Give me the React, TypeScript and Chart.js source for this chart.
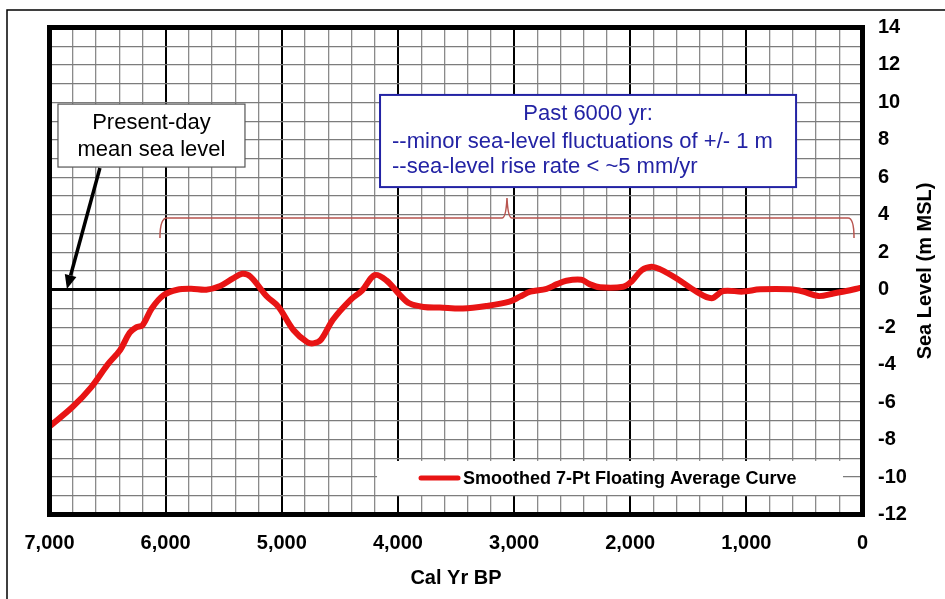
import React, { useEffect, useRef } from 'react';
import { Chart, registerables } from 'chart.js';

Chart.register(...registerables);

// ---- data ----
const years = [
  7000, 6800, 6640, 6500, 6390, 6310, 6250, 6200, 6120, 6020,
  5900, 5780, 5650, 5530, 5420, 5340, 5270, 5130, 5030, 4900,
  4780, 4720, 4660, 4560, 4410, 4310, 4200, 4100, 3980, 3900,
  3780, 3640, 3440, 3240, 3040, 2950, 2860, 2720, 2630, 2550,
  2420, 2350, 2260, 2060, 1990, 1900, 1815, 1745, 1600, 1430,
  1300, 1200, 1030, 880, 620, 510, 380, 250, 140, 20,
];
const seaLevel = [
  -7.3, -6.25, -5.2, -4.0, -3.2, -2.3, -2.0, -1.9, -1.0, -0.3,
  0.0, 0.05, 0.0, 0.2, 0.6, 0.85, 0.7, -0.35, -0.9, -2.15,
  -2.8, -2.85, -2.65, -1.6, -0.55, -0.05, 0.78, 0.5, -0.3, -0.73,
  -0.92, -0.95, -1.0, -0.87, -0.64, -0.37, -0.1, 0.05, 0.3, 0.48,
  0.53, 0.3, 0.13, 0.16, 0.43, 1.05, 1.23, 1.1, 0.6, -0.1,
  -0.45, -0.07, -0.1, 0.02, 0.02, -0.1, -0.34, -0.2, -0.07, 0.1,
];
const xRange = [0, 7000];
const yRange = [-12, 14];
const xStep = 200;
const xLabelEvery = 1000;
const yStep = 1;
const yLabelEvery = 2;

const seriesLabel = 'Smoothed 7-Pt Floating Average Curve';
const xTitle = 'Cal Yr BP';
const yTitle = 'Sea Level (m MSL)';
const noteMsl = ['Present-day', 'mean sea level'];
const noteTrend = ['Past 6000 yr:', '--minor sea-level fluctuations of +/- 1 m', '--sea-level rise rate < ~5 mm/yr'];

const FONT = 'Arial, "Liberation Sans", Helvetica, sans-serif';
const RED = '#e81414';
const BLUE = '#2323a4';

function fmtThousands(v: number): string {
  return String(Math.round(v)).replace(/\B(?=(\d{3})+(?!\d))/g, ',');
}

const overlayPlugin = {
  id: 'overlay',
  beforeDraw(chart: any) {
    const ctx: CanvasRenderingContext2D = chart.ctx;
    ctx.save();
    ctx.fillStyle = '#fff';
    ctx.fillRect(0, 0, chart.width, chart.height);
    ctx.strokeStyle = '#000';
    ctx.lineWidth = 1.5;
    ctx.strokeRect(7, 10, chart.width + 20, chart.height + 20);
    ctx.restore();
  },
  beforeDatasetsDraw(chart: any) {
    const ctx: CanvasRenderingContext2D = chart.ctx;
    const xs = chart.scales.x;
    const ys = chart.scales.y;
    const px = (v: number) => xs.getPixelForValue(v);
    const py = (v: number) => ys.getPixelForValue(v);
    ctx.save();

    // legend box
    const lx0 = px(4180), lx1 = px(168), ly0 = py(-9.14), ly1 = py(-10.96);
    ctx.fillStyle = '#fff';
    ctx.fillRect(lx0, ly0, lx1 - lx0, ly1 - ly0);
    const lyMid = (ly0 + ly1) / 2;
    ctx.strokeStyle = RED;
    ctx.lineWidth = 5;
    ctx.lineCap = 'round';
    ctx.beginPath();
    ctx.moveTo(lx0 + 44, lyMid);
    ctx.lineTo(lx0 + 81, lyMid);
    ctx.stroke();
    ctx.fillStyle = '#000';
    ctx.font = `bold 18px ${FONT}`;
    ctx.textBaseline = 'middle';
    ctx.textAlign = 'left';
    ctx.fillText(seriesLabel, lx0 + 86, lyMid + 1);

    // brace over the past 6000 yr
    const bl = px(6049), br = px(73), bTop = py(3.83), bEnd = py(2.76), bPeakX = px(3061), bPeakY = py(4.9);
    ctx.strokeStyle = '#b8544f';
    ctx.lineWidth = 1.5;
    ctx.lineCap = 'butt';
    ctx.beginPath();
    ctx.moveTo(bl, bEnd);
    ctx.quadraticCurveTo(bl, bTop, bl + 7, bTop);
    ctx.lineTo(bPeakX - 5, bTop);
    ctx.quadraticCurveTo(bPeakX - 1, bTop, bPeakX, bPeakY);
    ctx.quadraticCurveTo(bPeakX + 1, bTop, bPeakX + 5, bTop);
    ctx.lineTo(br - 6, bTop);
    ctx.quadraticCurveTo(br, bTop, br, bEnd);
    ctx.stroke();

    // present-day MSL note
    const ax0 = px(6927), ax1 = px(5317), ay0 = py(9.91), ay1 = py(6.55);
    ctx.fillStyle = '#fff';
    ctx.fillRect(ax0, ay0, ax1 - ax0, ay1 - ay0);
    ctx.strokeStyle = '#555';
    ctx.lineWidth = 1.2;
    ctx.strokeRect(ax0, ay0, ax1 - ax0, ay1 - ay0);
    ctx.fillStyle = '#000';
    ctx.font = `22px ${FONT}`;
    ctx.textBaseline = 'middle';
    ctx.textAlign = 'center';
    const acx = (ax0 + ax1) / 2;
    ctx.fillText(noteMsl[0], acx, ay0 + 19);
    ctx.fillText(noteMsl[1], acx, ay0 + 46);

    // arrow to MSL line
    const sx = px(6566), sy = py(6.5), tx = px(6850), ty = py(0.04);
    const ang = Math.atan2(ty - sy, tx - sx);
    const hl = 14, hw = 6;
    const bx = tx - hl * Math.cos(ang), by = ty - hl * Math.sin(ang);
    ctx.strokeStyle = '#000';
    ctx.fillStyle = '#000';
    ctx.lineWidth = 3.5;
    ctx.beginPath();
    ctx.moveTo(sx, sy);
    ctx.lineTo(bx, by);
    ctx.stroke();
    ctx.beginPath();
    ctx.moveTo(tx, ty);
    ctx.lineTo(bx + hw * Math.sin(ang), by - hw * Math.cos(ang));
    ctx.lineTo(bx - hw * Math.sin(ang), by + hw * Math.cos(ang));
    ctx.closePath();
    ctx.fill();

    // trend note
    const tx0 = px(4154), tx1 = px(572), ty0 = py(10.4), ty1 = py(5.48);
    ctx.fillStyle = '#fff';
    ctx.fillRect(tx0, ty0, tx1 - tx0, ty1 - ty0);
    ctx.strokeStyle = BLUE;
    ctx.lineWidth = 2;
    ctx.strokeRect(tx0, ty0, tx1 - tx0, ty1 - ty0);
    ctx.fillStyle = BLUE;
    ctx.font = `22px ${FONT}`;
    ctx.textBaseline = 'middle';
    ctx.textAlign = 'center';
    ctx.fillText(noteTrend[0], (tx0 + tx1) / 2, ty0 + 19);
    ctx.textAlign = 'left';
    ctx.fillText(noteTrend[1], tx0 + 12, ty0 + 47);
    ctx.fillText(noteTrend[2], tx0 + 12, ty0 + 72);

    ctx.restore();
  },
  afterDatasetsDraw(chart: any) {
    const ctx: CanvasRenderingContext2D = chart.ctx;
    const a = chart.chartArea;
    ctx.save();
    ctx.strokeStyle = '#000';
    ctx.lineWidth = 5;
    ctx.strokeRect(a.left, a.top, a.right - a.left, a.bottom - a.top);

    ctx.fillStyle = '#000';
    ctx.font = `bold 20px ${FONT}`;
    ctx.textAlign = 'center';
    ctx.textBaseline = 'middle';
    ctx.fillText(xTitle, (a.left + a.right) / 2, 578);

    ctx.font = `bold 20px ${FONT}`;
    ctx.translate(925, (a.top + a.bottom) / 2);
    ctx.rotate(-Math.PI / 2);
    ctx.fillText(yTitle, 0, 0);
    ctx.restore();
  },
};

export default function App() {
  const ref = useRef<HTMLCanvasElement | null>(null);

  useEffect(() => {
    if (!ref.current) return;
    const chart = new Chart(ref.current, {
      type: 'line',
      data: {
        datasets: [
          {
            label: seriesLabel,
            data: years.map((x, i) => ({ x, y: seaLevel[i] })),
            borderColor: RED,
            backgroundColor: RED,
            borderWidth: 6,
            pointRadius: 0,
            tension: 0.35,
            borderCapStyle: 'round',
            borderJoinStyle: 'round',
            fill: false,
          },
        ],
      },
      options: {
        responsive: false,
        animation: false,
        layout: { padding: { left: 49.5, top: 27.5, right: 0, bottom: 0 } },
        plugins: { legend: { display: false }, tooltip: { enabled: false } },
        scales: {
          x: {
            type: 'linear',
            reverse: true,
            min: xRange[0],
            max: xRange[1],
            position: 'bottom',
            border: { display: false },
            grid: {
              drawTicks: false,
              color: (c: any) => (c.tick && c.tick.value % xLabelEvery === 0 ? '#000' : '#8a8a8a'),
              lineWidth: (c: any) => (c.tick && c.tick.value % xLabelEvery === 0 ? 2 : 1.3),
            },
            ticks: {
              stepSize: xStep,
              autoSkip: false,
              maxRotation: 0,
              padding: 17,
              color: '#000',
              font: { family: FONT, size: 20, weight: 'bold' },
              callback: (v: any) => (Number(v) % xLabelEvery === 0 ? fmtThousands(Number(v)) : ''),
            },
            afterFit: (s: any) => {
              s.height = 84.5;
            },
          },
          y: {
            type: 'linear',
            position: 'right',
            min: yRange[0],
            max: yRange[1],
            border: { display: false },
            grid: {
              drawTicks: false,
              color: (c: any) => (c.tick && c.tick.value === 0 ? '#000' : '#7c7c7c'),
              lineWidth: (c: any) => (c.tick && c.tick.value === 0 ? 3 : 1.3),
            },
            ticks: {
              stepSize: yStep,
              autoSkip: false,
              padding: 15.5,
              crossAlign: 'near',
              color: '#000',
              font: { family: FONT, size: 20, weight: 'bold' },
              callback: (v: any) => (Number(v) % yLabelEvery === 0 ? String(v) : ''),
            },
            afterFit: (s: any) => {
              s.width = 82.5;
            },
          },
        },
      } as any,
      plugins: [overlayPlugin],
    });
    return () => chart.destroy();
  }, []);

  return (
    <div style={{ position: 'fixed', left: 0, top: 0, width: 945, height: 599, background: '#fff' }}>
      <canvas ref={ref} width={945} height={599} style={{ display: 'block', width: 945, height: 599 }} />
    </div>
  );
}
